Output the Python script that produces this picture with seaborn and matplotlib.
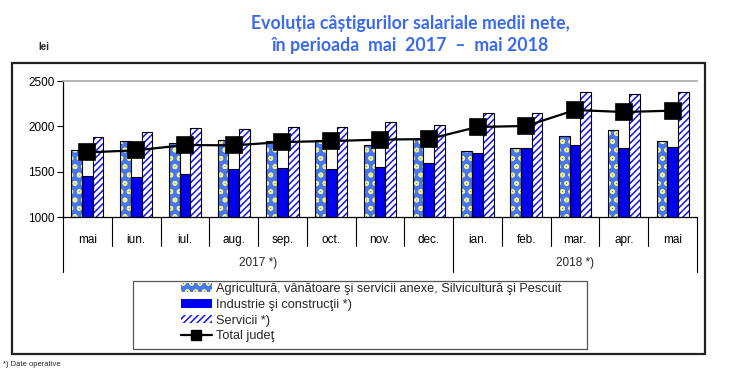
import matplotlib
matplotlib.use("Agg")
import matplotlib.pyplot as plt
import matplotlib.patches as mpatches
from matplotlib.lines import Line2D
import seaborn as sns
import pandas as pd

# data (lei)
luni = ["mai", "iun.", "iul.", "aug.", "sep.", "oct.", "nov.", "dec.",
        "ian.", "feb.", "mar.", "apr.", "mai"]
ani = ["2017"] * 8 + ["2018"] * 5
agricultura = [1735, 1842, 1820, 1853, 1842, 1853, 1798, 1857, 1724, 1765, 1897, 1963, 1842]
industrie = [1452, 1445, 1478, 1526, 1537, 1533, 1555, 1592, 1710, 1765, 1790, 1765, 1776]
servicii = [1886, 1934, 1985, 1974, 1996, 1996, 2044, 2018, 2143, 2143, 2375, 2357, 2375]
total_judet = [1713, 1735, 1794, 1790, 1827, 1838, 1853, 1860, 1993, 2004, 2180, 2158, 2173]

serii = ["Agricultură, vânătoare şi servicii anexe, Silvicultură şi Pescuit",
         "Industrie şi construcţii *)",
         "Servicii *)"]
total_label = "Total judeţ"
ani_labels = ["2017 *)", "2018 *)"]

perioade = [f"{l} {a}" for l, a in zip(luni, ani)]

df = pd.DataFrame({
    "perioada": perioade * 3,
    "serie": [serii[0]] * 13 + [serii[1]] * 13 + [serii[2]] * 13,
    "valoare": agricultura + industrie + servicii,
})

sns.set_style("white")
plt.rcParams["font.family"] = ["Liberation Sans", "DejaVu Sans"]
plt.rcParams["hatch.linewidth"] = 1.1

fig = plt.figure(figsize=(7.29, 3.85), dpi=100)
ax = fig.add_axes([63 / 729, 1 - 217 / 385, 634 / 729, 136 / 385])

face = {serii[0]: "#4677EE", serii[1]: "#0000F0", serii[2]: "white"}
hatch_col = {serii[0]: "#F3EF8A", serii[1]: "#0000F0", serii[2]: "#1414F0"}
hatches = {serii[0]: "oo", serii[1]: "", serii[2]: "/////"}

# fill + hatch layer
sns.barplot(data=df, x="perioada", y="valoare", hue="serie", order=perioade,
            hue_order=serii, palette=face, width=0.66, linewidth=0,
            legend=False, ax=ax)
for cont, s in zip(ax.containers, serii):
    for p in cont:
        p.set_facecolor(face[s])
        p.set_edgecolor(hatch_col[s])
        p.set_hatch(hatches[s])
        p.set_linewidth(0)

# outline layer
sns.barplot(data=df, x="perioada", y="valoare", hue="serie", order=perioade,
            hue_order=serii, palette=["black"] * 3, fill=False, width=0.66,
            linewidth=0.8, legend=False, ax=ax)

sns.pointplot(x=perioade, y=total_judet, order=perioade, color="black",
              markers="s", markersize=11, linewidth=1.6, errorbar=None, ax=ax)

ax.set_ylim(1000, 2500)
ax.set_xlim(-0.5, len(luni) - 0.5)
ax.set_yticks([1000, 1500, 2000, 2500])
ax.tick_params(axis="y", length=4, width=0.8, direction="out", labelsize=8.5,
               colors="black", pad=2, left=True)
ax.set_xticks(range(len(luni)))
ax.set_xticklabels(luni)
ax.tick_params(axis="x", length=0, labelsize=8.5, pad=12, colors="black")
ax.set_xlabel("")
ax.set_ylabel("")
for side in ["left", "bottom"]:
    ax.spines[side].set_color("black")
    ax.spines[side].set_linewidth(0.9)
ax.spines["top"].set_color("#A8A8A8")
ax.spines["top"].set_linewidth(1.2)
ax.spines["right"].set_visible(False)

# month and year separators under the axis
trans = ax.get_xaxis_transform()
n_2017 = ani.count("2017")
for i in range(len(luni) + 1):
    x = i - 0.5
    low = -0.405 if i in (0, n_2017, len(luni)) else -0.21
    ax.plot([x, x], [0, low], transform=trans, color="black", lw=0.8,
            clip_on=False)
ax.text((n_2017 - 1) / 2, -0.335, ani_labels[0], transform=trans,
        ha="center", va="center", fontsize=8.5)
ax.text(n_2017 + (len(luni) - n_2017 - 1) / 2, -0.335, ani_labels[1],
        transform=trans, ha="center", va="center", fontsize=8.5)

# titles
fig.text(0.563, 0.94, "Evoluția câștigurilor salariale medii nete,",
         ha="center", va="center", fontsize=12.8, fontweight="bold",
         color="#3B6BEA", family=["Lato", "DejaVu Sans"])
fig.text(0.563, 0.883, "în perioada  mai  2017  –  mai 2018",
         ha="center", va="center", fontsize=12.8, fontweight="bold",
         color="#3B6BEA", family=["Lato", "DejaVu Sans"])
fig.text(38 / 729, 1 - 47 / 385, "lei", ha="left", va="center", fontsize=7,
         fontweight="bold")
fig.text(3 / 729, 1 - 365 / 385, "*) Date operative", ha="left", va="center",
         fontsize=5.5)

# outer frame and legend box
fig.add_artist(mpatches.Rectangle((12 / 729, 1 - 354 / 385), 693 / 729, 291 / 385,
                                  transform=fig.transFigure, fill=False,
                                  edgecolor="#222222", lw=1.6))
fig.add_artist(mpatches.Rectangle((133 / 729, 1 - 349 / 385), 454 / 729, 68 / 385,
                                  transform=fig.transFigure, fill=False,
                                  edgecolor="#555555", lw=0.9))

handles = [mpatches.Patch(facecolor=face[s], edgecolor=hatch_col[s],
                          hatch=hatches[s], linewidth=0) for s in serii]
handles.append(Line2D([], [], color="black", lw=1.6, marker="s", markersize=7))
fig.legend(handles, serii + [total_label], loc="upper left",
           bbox_to_anchor=(181 / 729, 1 - 283 / 385), frameon=False,
           fontsize=9.2, handlelength=2.4, handleheight=0.65, handletextpad=0.3,
           labelspacing=0.3, borderpad=0, borderaxespad=0)

fig.savefig("out.png", dpi=100)
